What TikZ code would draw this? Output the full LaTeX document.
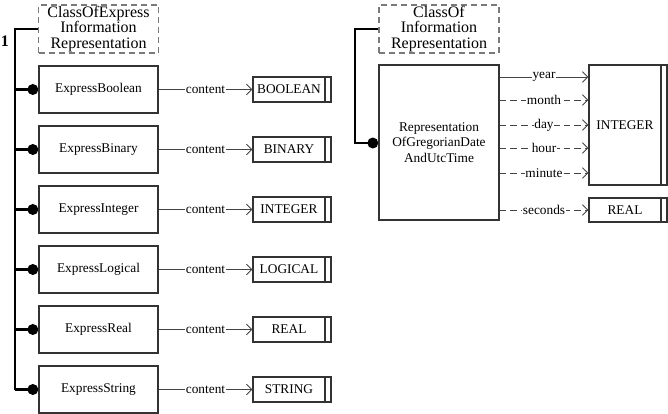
\documentclass[tikz,border=0pt]{standalone}
\usepackage{fontspec}
\setmainfont{Liberation Serif}
\usetikzlibrary{arrows.meta}
\newlength\pxu
\setlength\pxu{0.75pt}
\newcommand\tboxtext[1]{\makebox[72\pxu]{#1}\hspace*{6\pxu}}
\definecolor{boxline}{HTML}{333333}
\definecolor{dashline}{HTML}{7A7A7A}
\definecolor{connline}{HTML}{444444}
\begin{document}
\begin{tikzpicture}[x=0.75pt,y=-0.75pt,
  classbox/.style={draw=dashline,line width=1.1pt,dash pattern=on 4.5pt off 3pt,
    minimum width=120\pxu,minimum height=48\pxu,inner sep=0pt,align=center,
    font=\fontsize{12}{11.6}\selectfont},
  entbox/.style={draw=boxline,line width=1pt,minimum width=119\pxu,
    minimum height=47\pxu,inner sep=0pt,align=center,font=\fontsize{10}{11.6}\selectfont},
  typebox/.style={draw=boxline,line width=1pt,minimum width=78\pxu,
    minimum height=25\pxu,inner sep=0pt,font=\fontsize{10}{12}\selectfont,
    path picture={\draw[boxline,line width=0.8pt]
      ([xshift=-6\pxu]path picture bounding box.north east) --
      ([xshift=-6\pxu]path picture bounding box.south east);}},
  bus/.style={line width=2.2pt,black},
  dotnode/.style={circle,fill=black,inner sep=0pt,minimum size=11\pxu},
  conn/.style={connline,line width=0.7pt,-{Straight Barb[length=4pt,width=8pt]}},
  dconn/.style={conn,dash pattern=on 5pt off 3pt},
  lbl/.style={fill=white,inner sep=0.6pt,font=\fontsize{10}{12}\selectfont,text=black}
]
\useasboundingbox (0,0) rectangle (668,414);

% ---------- left group ----------
\node[font=\fontsize{12}{12}\selectfont\bfseries] (one) at (5,41) {1};
\node[classbox] (cls1) at (98.5,29) {ClassOfExpress\\Information\\Representation};
\coordinate (busTop) at (15,29);
\coordinate (busBot) at (15,389.5);
\draw[bus] (cls1.west) -- (busTop) -- (busBot);

\foreach \i/\ename/\tname in {0/ExpressBoolean/BOOLEAN,1/ExpressBinary/BINARY,
  2/ExpressInteger/INTEGER,3/ExpressLogical/LOGICAL,4/ExpressReal/REAL,5/ExpressString/STRING}{
  \node[entbox] (e\i) at (98.5,89.5+60*\i) {\ename};
  \node[typebox] (t\i) at (292,89.5+60*\i) {\tboxtext{\tname}};
  \node[dotnode] (d\i) at ([xshift=-5.5\pxu]e\i.west) {};
  \draw[bus] (busTop |- e\i.west) -- (d\i.center);
  \draw[conn] (e\i.east) -- node[lbl] {content} (t\i.west);
}

% ---------- right group ----------
\node[classbox] (cls2) at (439,29) {ClassOf\\Information\\Representation};
\node[entbox,minimum width=120\pxu,minimum height=155\pxu] (rep) at (439,142.5)
  {Representation\\OfGregorianDate\\AndUtcTime};
\node[typebox,minimum height=120\pxu] (int) at (628,125) {\tboxtext{INTEGER}};
\node[typebox,minimum height=24\pxu] (real) at (628,210) {\tboxtext{REAL}};
\node[dotnode] (d6) at ([xshift=-5.5\pxu,yshift=-0.5\pxu]rep.west) {};
\coordinate (busTopR) at (355,29);
\draw[bus] (cls2.west) -- (busTopR) |- (d6.center);

\coordinate (yYear) at (0,77);
\coordinate (yMonth) at (0,100);
\coordinate (yDay) at (0,125);
\coordinate (yHour) at (0,148);
\coordinate (yMinute) at (0,173);
\coordinate (ySeconds) at (0,210);
\draw[conn] (rep.east |- yYear) -- node[lbl] {year} (int.west |- yYear);
\draw[dconn] (rep.east |- yMonth) -- node[lbl] {month} (int.west |- yMonth);
\draw[dconn] (rep.east |- yDay) -- node[lbl] {day} (int.west |- yDay);
\draw[dconn] (rep.east |- yHour) -- node[lbl] {hour} (int.west |- yHour);
\draw[dconn] (rep.east |- yMinute) -- node[lbl] {minute} (int.west |- yMinute);
\draw[dconn] (rep.east |- ySeconds) -- node[lbl] {seconds} (real.west);
\end{tikzpicture}
\end{document}
